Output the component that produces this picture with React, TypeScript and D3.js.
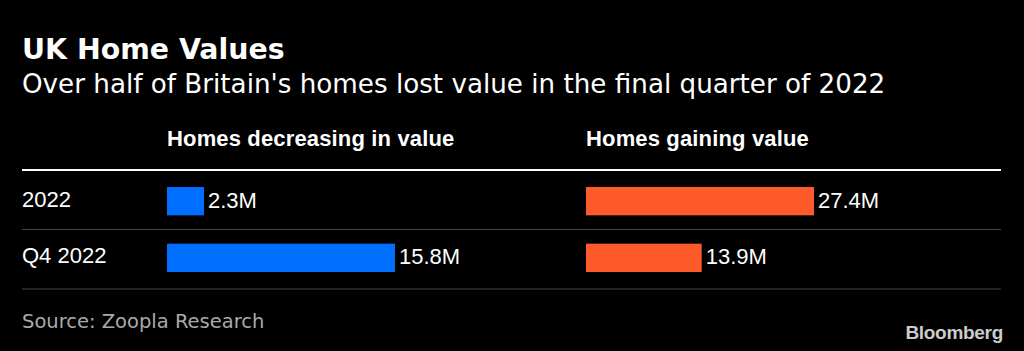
import React, { useEffect, useRef } from 'react';
import * as d3 from 'd3';

const rowLabels = ['2022', 'Q4 2022'];
const decreasingValues = [2.3, 15.8];
const gainingValues = [27.4, 13.9];
const panelTitles = ['Homes decreasing in value', 'Homes gaining value'];
const panelColors = ['#006fff', '#ff5a2a'];

const width = 1024;
const height = 351;

export default function App() {
  const svgRef = useRef<SVGSVGElement>(null);

  useEffect(() => {
    document.body.style.margin = '0';
    document.body.style.background = '#000';
    if (!svgRef.current) return;
    const svg = d3.select(svgRef.current);
    svg.selectAll('*').remove();

    const left = 22;
    const right = 1001;
    const headerY = 170;
    const rowH = 59.5;
    const sans = 'DejaVu Sans, sans-serif';
    const helv = 'Liberation Sans, Arial, sans-serif';

    svg.append('rect').attr('width', width).attr('height', height).attr('fill', '#000');

    // Title and subtitle
    svg.append('text')
      .attr('x', left).attr('y', 59)
      .attr('fill', '#fff')
      .attr('font-family', sans)
      .attr('font-weight', 'bold')
      .attr('font-size', 28.4)
      .text('UK Home Values');

    svg.append('text')
      .attr('x', left).attr('y', 93)
      .attr('fill', '#fff')
      .attr('font-family', sans)
      .attr('font-size', 26.2)
      .text("Over half of Britain's homes lost value in the final quarter of 2022");

    const y = d3.scaleBand<string>()
      .domain(rowLabels)
      .range([headerY, headerY + rowH * rowLabels.length])
      .paddingInner(0.5)
      .paddingOuter(0.3);

    // Row separators
    svg.selectAll('line.sep')
      .data(rowLabels)
      .enter()
      .append('line')
      .attr('class', 'sep')
      .attr('x1', left).attr('x2', right)
      .attr('y1', (_, i) => headerY + rowH * (i + 1))
      .attr('y2', (_, i) => headerY + rowH * (i + 1))
      .attr('stroke', '#444')
      .attr('stroke-width', 1);

    svg.append('line')
      .attr('x1', left).attr('x2', right)
      .attr('y1', headerY).attr('y2', headerY)
      .attr('stroke', '#fff')
      .attr('stroke-width', 2);

    // Row labels
    svg.selectAll('text.row')
      .data(rowLabels)
      .enter()
      .append('text')
      .attr('class', 'row')
      .attr('x', left)
      .attr('y', (d) => (y(d) as number) + y.bandwidth() / 2 + 5.5)
      .attr('fill', '#fff')
      .attr('font-family', helv)
      .attr('font-size', 22)
      .text((d) => d);

    const panels = [
      { x0: 167, values: decreasingValues },
      { x0: 586, values: gainingValues },
    ];

    panels.forEach((p, pi) => {
      const x = d3.scaleLinear()
        .domain([0, d3.max(p.values) as number])
        .range([0, 228]);

      const g = svg.append('g').attr('transform', `translate(${p.x0},0)`);

      g.append('text')
        .attr('x', 0).attr('y', 146)
        .attr('fill', '#fff')
        .attr('font-family', helv)
        .attr('font-weight', 'bold')
        .attr('font-size', 22)
        .attr('letter-spacing', 0.15)
        .text(panelTitles[pi]);

      g.selectAll('rect')
        .data(p.values)
        .enter()
        .append('rect')
        .attr('x', 0)
        .attr('y', (_, i) => y(rowLabels[i]) as number)
        .attr('width', (d) => Math.max(x(d), 37))
        .attr('height', y.bandwidth())
        .attr('fill', panelColors[pi]);

      g.selectAll('text.val')
        .data(p.values)
        .enter()
        .append('text')
        .attr('class', 'val')
        .attr('x', (d) => Math.max(x(d), 37) + 4)
        .attr('y', (_, i) => (y(rowLabels[i]) as number) + y.bandwidth() / 2 + 6.5)
        .attr('fill', '#fff')
        .attr('font-family', helv)
        .attr('font-size', 22)
        .text((d) => `${d}M`);
    });

    // Footer
    svg.append('text')
      .attr('x', left).attr('y', 328)
      .attr('fill', '#aaa')
      .attr('font-family', sans)
      .attr('font-size', 19.5)
      .text('Source: Zoopla Research');

    svg.append('text')
      .attr('x', 1003).attr('y', 339)
      .attr('text-anchor', 'end')
      .attr('fill', '#ccc')
      .attr('font-family', helv)
      .attr('font-weight', 'bold')
      .attr('font-size', 19)
      .attr('letter-spacing', -0.3)
      .text('Bloomberg');
  }, []);

  return <svg ref={svgRef} width={width} height={height} style={{ display: 'block' }} />;
}
